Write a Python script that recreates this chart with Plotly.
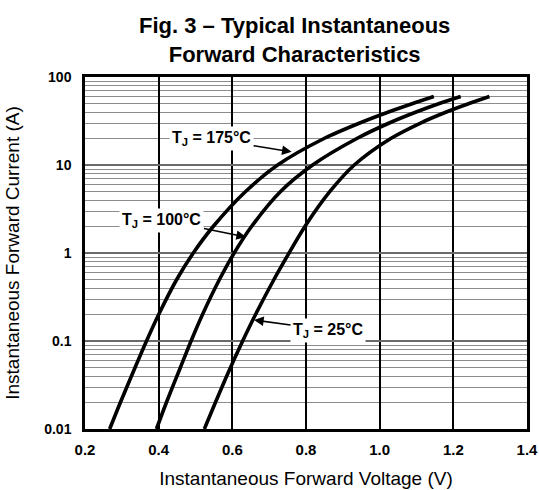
import math
import plotly.graph_objects as go

# Forward current points (A)
current_a = [0.01, 0.02, 0.05, 0.1, 0.2, 0.5, 1, 2, 5, 10, 20, 30, 40, 50, 60]
# Forward voltage (V) read at each current for each junction temperature
v_175 = [0.267, 0.296, 0.336, 0.367, 0.400, 0.449, 0.494, 0.548, 0.636, 0.723, 0.849, 0.946, 1.024, 1.090, 1.147]
v_100 = [0.394, 0.421, 0.459, 0.488, 0.519, 0.565, 0.605, 0.652, 0.731, 0.818, 0.938, 1.026, 1.099, 1.162, 1.220]
v_25 = [0.524, 0.554, 0.595, 0.628, 0.663, 0.713, 0.754, 0.797, 0.865, 0.931, 1.030, 1.111, 1.181, 1.243, 1.298]

series_names = ["T<sub>J</sub> = 175°C", "T<sub>J</sub> = 100°C", "T<sub>J</sub> = 25°C"]
series_values = [v_175, v_100, v_25]

x_ticks = [0.2, 0.4, 0.6, 0.8, 1.0, 1.2, 1.4]
x_tick_text = ["0.2", "0.4", "0.6", "0.8", "1.0", "1.2", "1.4"]
y_ticks = [0.01, 0.1, 1, 10, 100]
y_tick_text = ["0.01", "0.1", "1", "10", "100"]

title_text = "<b>Fig. 3 – Typical Instantaneous<br>Forward Characteristics</b>"
x_title = "Instantaneous Forward Voltage (V)"
y_title = "Instantaneous Forward Current (A)"

# label anchor points on curves (V, A)
label_points = [(0.761, 14.1), (0.637, 1.52), (0.659, 0.173)]

FONT = "Liberation Sans, Arial, sans-serif"

fig = go.Figure()
for name, vals in zip(series_names, series_values):
    fig.add_trace(go.Scatter(
        x=vals, y=current_a, mode="lines", name=name,
        line=dict(color="black", width=3.6, shape="spline", smoothing=0.8),
        showlegend=False, hoverinfo="skip"))

offsets = [(-80, -13), (-84, -17), (74, 10)]
for name, (vx, iy), (ax, ay) in zip(series_names, label_points, offsets):
    fig.add_annotation(
        x=vx, y=math.log10(iy), xref="x", yref="y",
        text="<b>" + name + "</b>", showarrow=True,
        ax=ax, ay=ay, arrowhead=2, arrowsize=1.2, arrowwidth=1.6,
        arrowcolor="black", bgcolor="white", borderpad=2,
        font=dict(family=FONT, size=16, color="black"))

# chart title
fig.add_annotation(
    x=0.474, y=1.105, xref="paper", yref="paper",
    xanchor="center", yanchor="middle", showarrow=False,
    text=title_text, align="center",
    font=dict(family=FONT, size=22, color="black"))

fig.update_layout(
    width=539, height=490,
    margin=dict(l=85, r=12, t=77, b=61, autoexpand=False),
    paper_bgcolor="white", plot_bgcolor="white",
    font=dict(family=FONT, color="black"),
)

fig.update_xaxes(
    range=[0.2, 1.4], tickvals=x_ticks, ticktext=x_tick_text,
    automargin=False,
    showgrid=True, gridcolor="black", gridwidth=1.5,
    showline=True, linecolor="black", linewidth=2.5, mirror=True,
    zeroline=False, ticks="", ticklabelstandoff=5,
    tickfont=dict(family=FONT, size=15, color="black", weight="bold"),
    title=dict(text=x_title, standoff=15,
               font=dict(family=FONT, size=19, color="black")))

fig.update_yaxes(
    type="log", range=[-2, 2], tickvals=y_ticks, ticktext=y_tick_text,
    automargin=False,
    showgrid=True, gridcolor="#6a6a6a", gridwidth=2,
    minor=dict(dtick="D1", showgrid=True, gridcolor="#8c8c8c", gridwidth=1.3, ticks=""),
    showline=True, linecolor="black", linewidth=2.5, mirror=True,
    zeroline=False, ticks="", ticklabelstandoff=8,
    tickfont=dict(family=FONT, size=14, color="black", weight="bold"),
    title=dict(text=y_title, standoff=20,
               font=dict(family=FONT, size=19, color="black")))

fig.write_html("out.html",
               config={"displayModeBar": False},
               post_script="document.body.style.margin='0';document.body.style.padding='0';")
